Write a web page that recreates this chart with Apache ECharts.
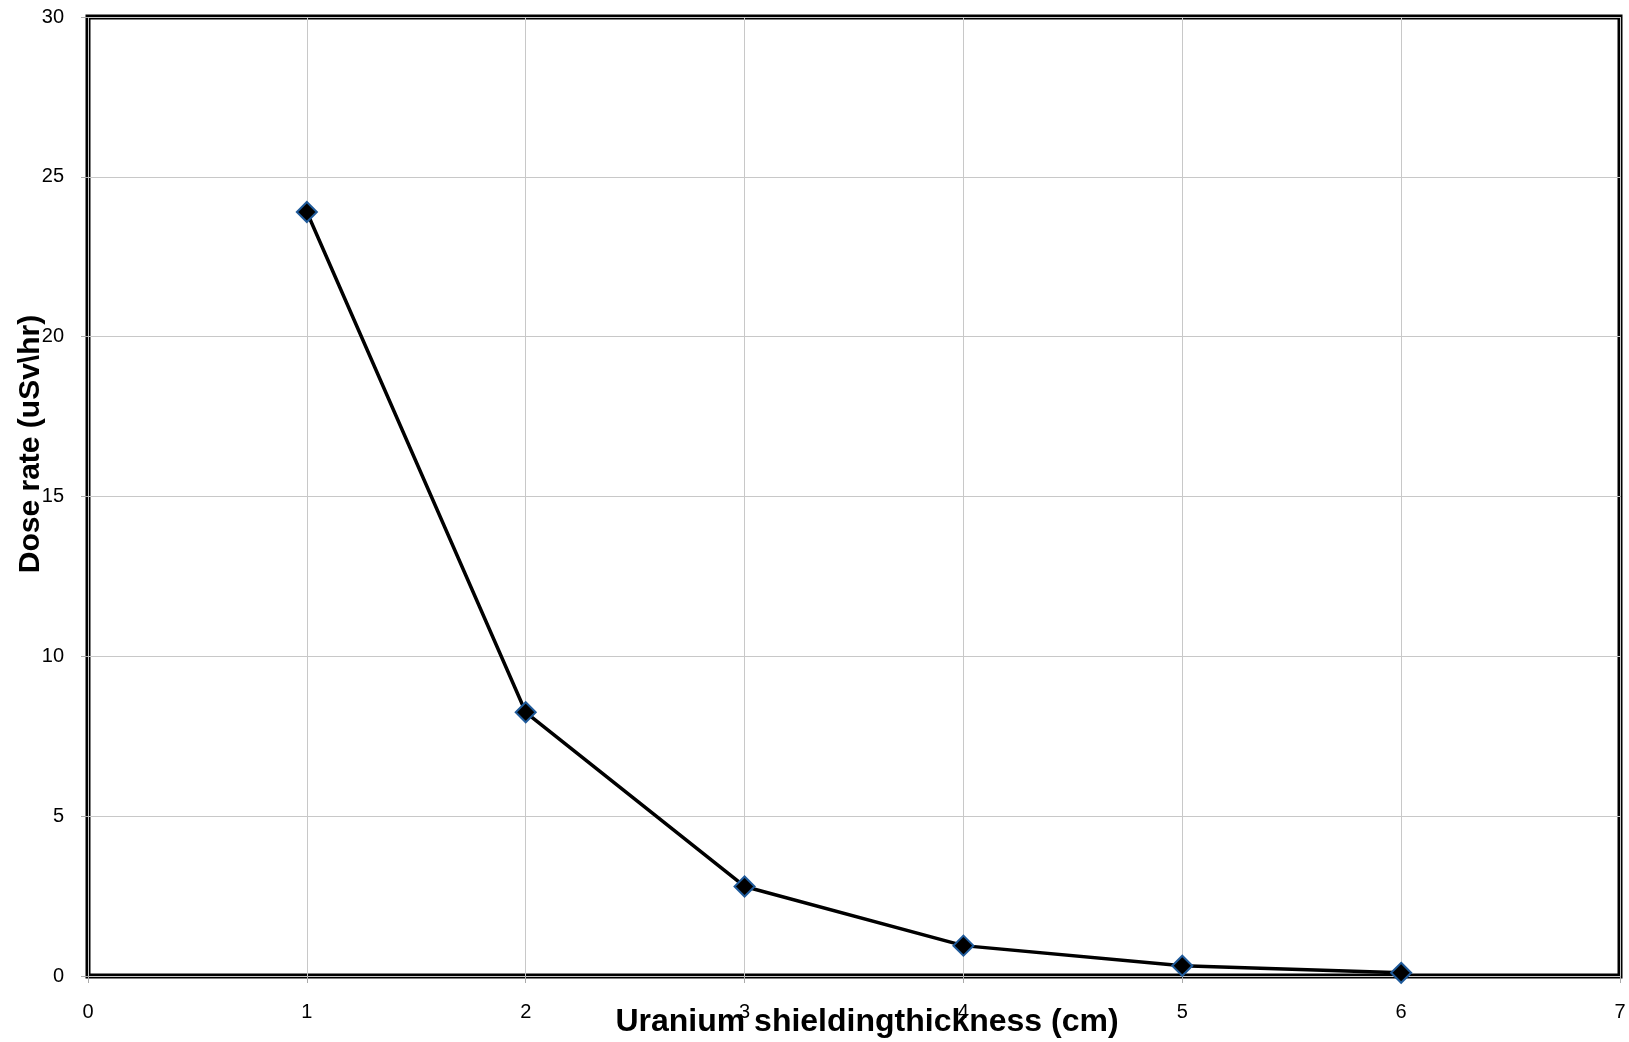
<!DOCTYPE html>
<html><head><meta charset="utf-8">
<script src="https://cdn.jsdelivr.net/npm/echarts@6/dist/echarts.min.js"></script>
<style>html,body{margin:0;padding:0;background:#fff}#c{width:1629px;height:1042px}</style>
</head><body><div id="c"></div>
<script>
const thickness = [1, 2, 3, 4, 5, 6];
const doseRate = [23.9, 8.25, 2.8, 0.95, 0.32, 0.1];
const xTitle = 'Uranium shieldingthickness (cm)';
const yTitle = 'Dose rate (uSv\\hr)';

const chart = echarts.init(document.getElementById('c'));
const font = '"Liberation Sans", Arial, sans-serif';
chart.setOption({
  animation: false,
  backgroundColor: '#fff',
  grid: {left: 88, right: 9, top: 17, bottom: 66, show: true, borderColor: '#000', borderWidth: 5, backgroundColor: 'transparent'},
  xAxis: {
    type: 'value', min: 0, max: 7, interval: 1,
    axisLine: {show: false},
    axisTick: {show: true, length: 7, lineStyle: {color: '#aaa'}},
    axisLabel: {margin: 26, fontSize: 20, color: '#000', fontFamily: font},
    splitLine: {show: true, lineStyle: {color: '#c8c8c8', width: 1}}
  },
  yAxis: {
    type: 'value', min: 0, max: 30, interval: 5,
    axisLine: {show: false},
    axisTick: {show: true, length: 7, lineStyle: {color: '#aaa'}},
    axisLabel: {margin: 24, fontSize: 20, color: '#000', fontFamily: font},
    splitLine: {show: true, lineStyle: {color: '#c8c8c8', width: 1}}
  },
  series: [{
    type: 'line',
    data: thickness.map((x, i) => [x, doseRate[i]]),
    lineStyle: {color: '#000', width: 3.5},
    symbol: 'diamond', symbolSize: 20,
    itemStyle: {color: '#000', borderColor: '#1f5a9a', borderWidth: 2},
    z: 5
  }],
  graphic: [
    {type: 'text', x: 867, y: 1022, style: {text: xTitle, font: 'bold 32px ' + font, fill: '#000', textAlign: 'center', textVerticalAlign: 'middle'}},
    {type: 'text', x: 31, y: 444, rotation: Math.PI / 2, style: {text: yTitle, font: 'bold 30px ' + font, fill: '#000', textAlign: 'center', textVerticalAlign: 'middle'}}
  ]
});
</script></body></html>
